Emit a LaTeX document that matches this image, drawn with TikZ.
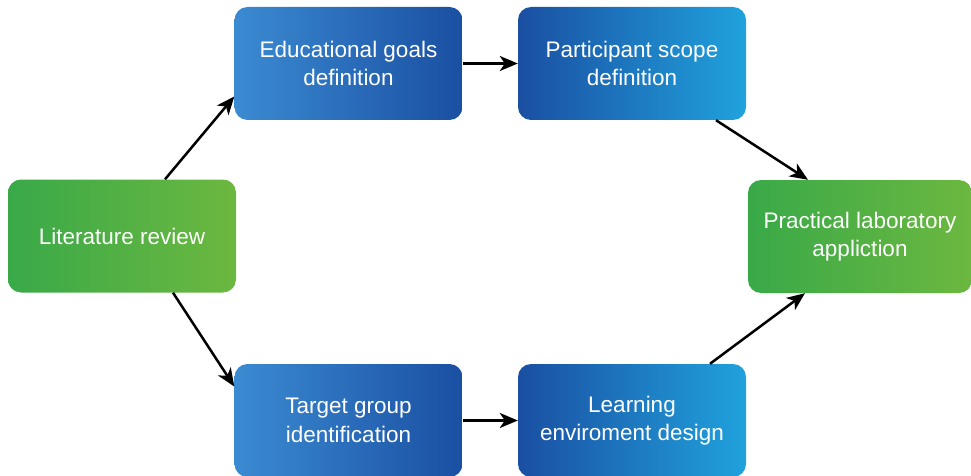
\documentclass[tikz,border=0pt]{standalone}
\usepackage{fontspec}
\setmainfont{Liberation Sans}
\usetikzlibrary{arrows.meta,calc}
\definecolor{gL}{HTML}{39A948}
\definecolor{gR}{HTML}{6CB840}
\definecolor{bLight}{HTML}{3B8BD2}
\definecolor{bDark}{HTML}{1A4FA2}
\definecolor{bCyan}{HTML}{20A2DD}
\tikzset{
  box/.style={rounded corners=13pt, minimum width=228pt, minimum height=113pt,
    align=center, text=white, font=\fontsize{22.5}{28.5}\selectfont, inner sep=0pt},
  greenbox/.style={box, left color=gL, right color=gR},
  bluefade/.style={box, left color=bLight, right color=bDark},
  bluerise/.style={box, left color=bDark, right color=bCyan},
  conn/.style={-{Stealth[length=18pt,width=15pt,inset=5pt]}, line width=2.5pt, black},
}
\begin{document}
\begin{tikzpicture}[x=1pt,y=-1pt]
\useasboundingbox (0,0) rectangle (971,476);
\node[greenbox] (lit) at (122,236) {Literature review};
\node[bluefade] (edu) at (348.5,63.5) {Educational goals\\definition};
\node[bluerise] (par) at (632,63.5) {Participant scope\\definition};
\node[greenbox, minimum width=224pt] (pra) at (860,236.5) {Practical laboratory\\appliction};
\node[bluefade] (tar) at (348.5,420.5) {Target group\\identification};
\node[bluerise] (lea) at (632,420.5) {Learning\\enviroment design};
\draw[conn] ($(lit.north)+(43,0)$) -- ($(edu.west)+(0,33)$);
\draw[conn] ($(lit.south)+(51,0)$) -- ($(tar.west)+(0,-34)$);
\draw[conn] (edu.east) -- (par.west);
\draw[conn] (tar.east) -- (lea.west);
\draw[conn] ($(par.south)+(84,0)$) -- ($(pra.north)+(-52,0)$);
\draw[conn] ($(lea.north)+(78,0)$) -- ($(pra.south)+(-55,0)$);
\end{tikzpicture}
\end{document}
